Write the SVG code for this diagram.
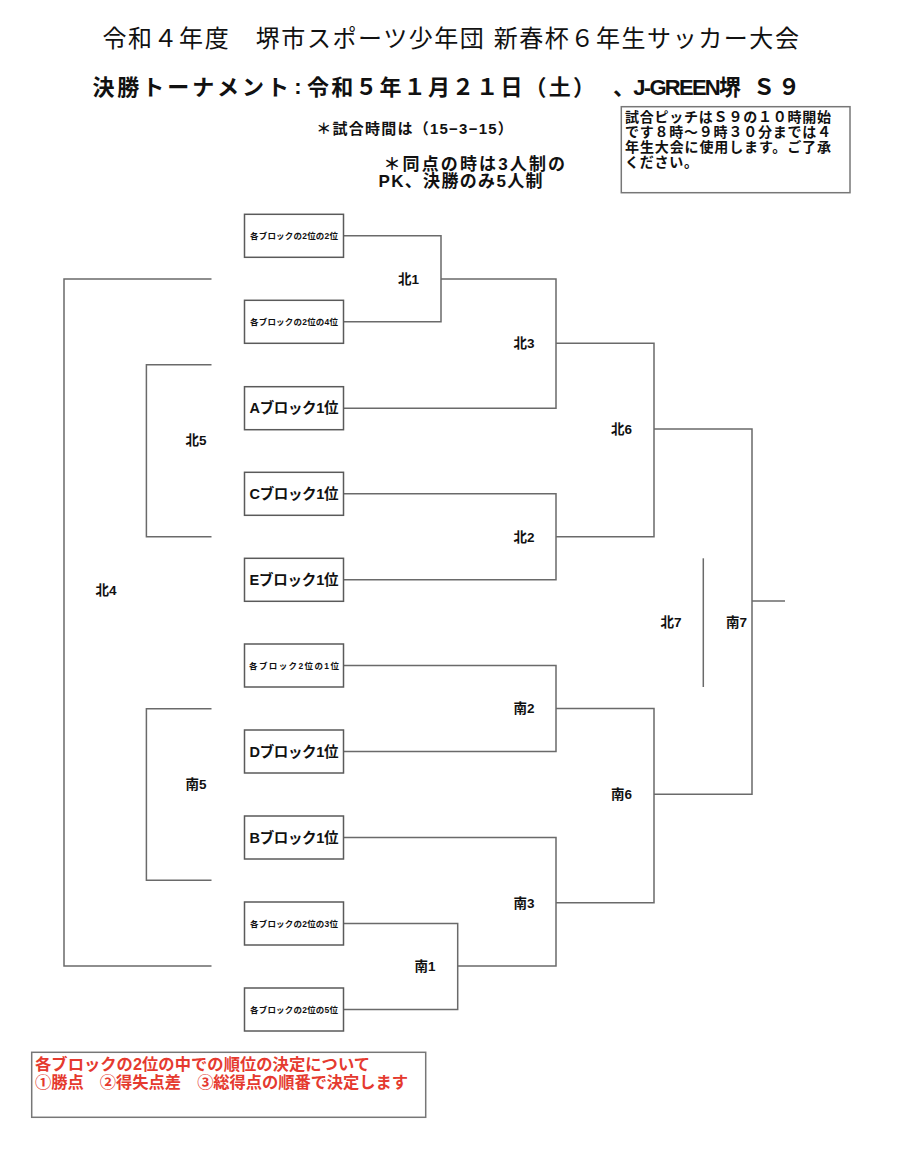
<svg xmlns="http://www.w3.org/2000/svg" width="908" height="1158" viewBox="0 0 908 1158">
<style>
text{font-family:"Liberation Sans","Noto Sans CJK JP",sans-serif;fill:#111;dominant-baseline:central}
.b{font-weight:bold}
.box{fill:#fff;stroke:#5a5a5a;stroke-width:1.5}
.small{font-size:8.5px;font-weight:bold;text-anchor:middle}
.big{font-size:14.5px;font-weight:bold;text-anchor:middle}
.lbl{font-size:13.5px;font-weight:bold;text-anchor:middle}
.con path{fill:none;stroke:#6a6a6a;stroke-width:1.5}
.red{fill:#e53a2f;font-weight:bold;font-size:16.3px}
.note{font-size:14px;font-weight:bold}
</style>
<rect width="908" height="1158" fill="#fff"/>
<g id="header">
<text x="102.4" y="38.3" font-size="24" textLength="696.5" lengthAdjust="spacing">令和４年度　堺市スポーツ少年団 新春杯６年生サッカー大会</text>
<text class="b" x="92.4" y="87.3" font-size="22" textLength="196.6" lengthAdjust="spacing">決勝トーナメント</text>
<text class="b" x="298" y="86.3" font-size="22" text-anchor="middle">:</text>
<text class="b" x="307" y="87.3" font-size="22" textLength="288" lengthAdjust="spacing">令和５年１月２１日（土）</text>
<text class="b" x="613" y="87.3" font-size="22" textLength="128" lengthAdjust="spacing">、J-GREEN堺</text>
<text class="b" x="753" y="87.3" font-size="22" textLength="47" lengthAdjust="spacing">Ｓ９</text>
<text class="b" x="316.3" y="128.3" font-size="15" textLength="196.5" lengthAdjust="spacing">＊試合時間は（15−3−15）</text>
<text class="b" x="383.5" y="164" font-size="17" textLength="181.5" lengthAdjust="spacing">＊同点の時は3人制の</text>
<text class="b" x="378.5" y="181.7" font-size="17" textLength="164" lengthAdjust="spacing">PK、決勝のみ5人制</text>
</g>
<g id="pitch-note">
<rect x="621.3" y="106.7" width="228.7" height="86" fill="#fff" stroke="#777" stroke-width="1.5"/>
<text class="note" x="625" y="117.3" textLength="206" lengthAdjust="spacing">試合ピッチはＳ９の１０時開始</text>
<text class="note" x="625" y="132.3" textLength="206" lengthAdjust="spacing">です８時～９時３０分までは４</text>
<text class="note" x="625" y="146.7" textLength="206" lengthAdjust="spacing">年生大会に使用します。ご了承</text>
<text class="note" x="625" y="161.7" textLength="73" lengthAdjust="spacing">ください。</text>
</g>
<g id="connectors" class="con">
<path d="M343.5,235.8 H441 V321.8 H343.5"/>
<path d="M441,279 H556 V408.2 H343.5"/>
<path d="M343.5,493.8 H556 V579.8 H343.5"/>
<path d="M556,343.3 H654 V536.7 H556"/>
<path d="M654,429 H752 V794.3 H654"/>
<path d="M752,601 H785"/>
<path d="M703.3,558.3 V687"/>
<path d="M211.5,364.7 H146.4 V536.7 H211.5"/>
<path d="M211.5,279 H64 V966 H211.5"/>
<path d="M211.5,708.7 H146.4 V880.3 H211.5"/>
<path d="M343.5,665.5 H556 V751.5 H343.5"/>
<path d="M556,708.5 H654 V902.7 H556"/>
<path d="M343.5,837.5 H556 V966 H457.7"/>
<path d="M343.5,923.5 H457.7 V1009.5 H343.5"/>
</g>
<g id="n-2nd-2"><rect class="box" x="244.5" y="214.3" width="99" height="43"/><text class="small" x="294" y="235.8" textLength="88" lengthAdjust="spacing">各ブロックの2位の2位</text></g>
<g id="n-2nd-4"><rect class="box" x="244.5" y="300.3" width="99" height="43"/><text class="small" x="294" y="321.8" textLength="88" lengthAdjust="spacing">各ブロックの2位の4位</text></g>
<g id="n-A"><rect class="box" x="244.5" y="386.7" width="99" height="43"/><text class="big" x="294" y="408.2" textLength="89" lengthAdjust="spacing">Aブロック1位</text></g>
<g id="n-C"><rect class="box" x="244.5" y="472.3" width="99" height="43"/><text class="big" x="294" y="493.8" textLength="89" lengthAdjust="spacing">Cブロック1位</text></g>
<g id="n-E"><rect class="box" x="244.5" y="558.3" width="99" height="43"/><text class="big" x="294" y="579.8" textLength="89" lengthAdjust="spacing">Eブロック1位</text></g>
<g id="n-2nd-1"><rect class="box" x="244.5" y="644" width="99" height="43"/><text class="small" x="294" y="665.5" textLength="90" lengthAdjust="spacing">各ブロック2位の1位</text></g>
<g id="n-D"><rect class="box" x="244.5" y="730" width="99" height="43"/><text class="big" x="294" y="751.5" textLength="89" lengthAdjust="spacing">Dブロック1位</text></g>
<g id="n-B"><rect class="box" x="244.5" y="816" width="99" height="43"/><text class="big" x="294" y="837.5" textLength="89" lengthAdjust="spacing">Bブロック1位</text></g>
<g id="n-2nd-3"><rect class="box" x="244.5" y="902" width="99" height="43"/><text class="small" x="294" y="923.5" textLength="88" lengthAdjust="spacing">各ブロックの2位の3位</text></g>
<g id="n-2nd-5"><rect class="box" x="244.5" y="988" width="99" height="43"/><text class="small" x="294" y="1009.5" textLength="88" lengthAdjust="spacing">各ブロックの2位の5位</text></g>
<g id="match-labels">
<text class="lbl" x="408.5" y="279">北1</text>
<text class="lbl" x="524" y="343">北3</text>
<text class="lbl" x="196" y="440">北5</text>
<text class="lbl" x="524" y="537">北2</text>
<text class="lbl" x="106" y="590">北4</text>
<text class="lbl" x="621.5" y="429">北6</text>
<text class="lbl" x="671" y="622">北7</text>
<text class="lbl" x="736.5" y="622">南7</text>
<text class="lbl" x="524" y="708">南2</text>
<text class="lbl" x="196" y="784">南5</text>
<text class="lbl" x="524" y="903">南3</text>
<text class="lbl" x="425" y="966">南1</text>
<text class="lbl" x="621.5" y="794">南6</text>
</g>
<g id="ranking-note">
<rect x="31.7" y="1052.3" width="394" height="65" fill="#fff" stroke="#777" stroke-width="1.5"/>
<text class="red" x="35" y="1064" textLength="335" lengthAdjust="spacing">各ブロックの2位の中での順位の決定について</text>
<text class="red" x="35" y="1081.7" textLength="373" lengthAdjust="spacing">①勝点　②得失点差　③総得点の順番で決定します</text>
</g>
</svg>
